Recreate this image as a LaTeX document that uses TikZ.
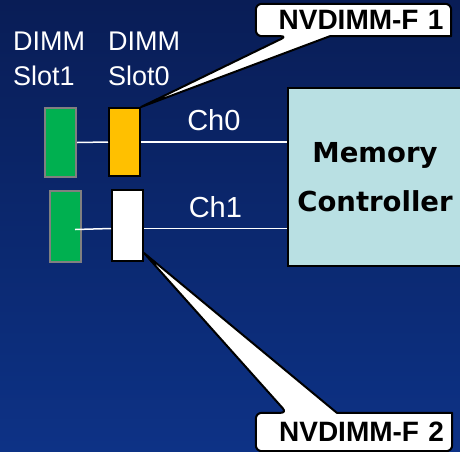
\documentclass[tikz,border=0pt]{standalone}
\usepackage{fontspec}
\setmainfont{Liberation Sans}
\newfontfamily\mcfont{DejaVu Sans}
\usetikzlibrary{positioning, calc}

\definecolor{bgTop}{RGB}{9,29,86}
\definecolor{bgBottom}{RGB}{13,50,134}
\definecolor{slotGreen}{RGB}{0,176,80}
\definecolor{slotYellow}{RGB}{255,192,0}
\definecolor{mcFill}{RGB}{185,224,227}

\pgfdeclarelayer{sky}
\pgfdeclarelayer{back}
\pgfsetlayers{sky,back,main}

\begin{document}
\begin{tikzpicture}[
    x=1pt, y=-1pt,
    % Node Styles
    slot/.style={rectangle, line width=2pt, minimum width=31pt, inner sep=0pt},
    dimmSlot/.style={slot, draw=gray, fill=slotGreen},
    nvSlot/.style={slot, draw=black},
    slotText/.style={text=white, align=left, inner sep=0pt, anchor=north west, font=\fontsize{27}{34.5}\selectfont},
    chLine/.style={draw=white, line width=1.5pt},
    chText/.style={text=white, inner sep=0pt, font=\fontsize{29}{34}\selectfont},
    ctrl/.style={rectangle, draw=black, line width=2.5pt, fill=mcFill, align=center,
        minimum width=174pt, minimum height=178pt, font=\mcfont\bfseries\fontsize{27.5}{49}\selectfont},
    callText/.style={rectangle, inner sep=0pt, text width=180pt, align=right,
        font=\bfseries\fontsize{28}{32}\selectfont},
    callout/.style={draw=black, line width=2pt, fill=white, line join=round}
]

% =========================================================
% BACKGROUND
% =========================================================
\begin{pgfonlayer}{sky}
\shade[top color=bgTop, bottom color=bgBottom] (0,0) rectangle (460,451);
\end{pgfonlayer}
\useasboundingbox (0,0) rectangle (460,451);

% =========================================================
% SLOT LABELS
% =========================================================
\node[slotText] (slot1Text) at (13,32) {DIMM\\Slot1};
\node[slotText] (slot0Text) at (108,32) {DIMM\\Slot0};

% =========================================================
% DIMM SLOTS
% =========================================================
\node[dimmSlot, minimum height=69pt] (s1c0) at (60.5,142.5) {};
\node[nvSlot, fill=slotYellow, minimum height=68pt] (s0c0) at (124.5,142) {};
\node[dimmSlot, minimum height=71pt] (s1c1) at (65,226.5) {};
\node[nvSlot, fill=white, minimum height=71pt] (s0c1) at (127.5,225.5) {};

% =========================================================
% MEMORY CONTROLLER
% =========================================================
\node[ctrl] (mc) at (375,177) {Memory\\Controller};

% Channels
\draw[chLine] (s1c0.east) -- (s0c0.west);
\draw[chLine] (s0c0.east) -- node[chText, above=10pt] (ch0) {Ch0} (s0c0.east -| mc.west);
\draw[chLine] ([xshift=10pt, yshift=-3pt]s1c1.center) -- ([yshift=-3pt]s0c1.west);
\draw[chLine] ([yshift=-3pt]s0c1.east) -- node[chText, above=10pt] (ch1) {Ch1} ([yshift=-3pt]s0c1.east -| mc.west);

% =========================================================
% CALLOUTS
% =========================================================
\node[callText, minimum width=195pt, minimum height=32pt] (nv1) at (353.5,20) {NVDIMM-F 1};
\node[callText, minimum width=196pt, minimum height=38pt] (nv2) at (354,432) {NVDIMM-F 2};

\begin{pgfonlayer}{back}
\draw[callout] ([xshift=31pt]nv1.south west) -- (s0c0.north east) -- ([xshift=74pt]nv1.south west)
    -- (nv1.south east) [rounded corners=6pt] -- (nv1.north east) -- (nv1.north west) -- (nv1.south west) -- cycle;
\draw[callout] ([xshift=31pt]nv2.north west) -- ([yshift=9pt]s0c1.south east) -- ([xshift=81pt]nv2.north west)
    -- (nv2.north east) [rounded corners=6pt] -- (nv2.south east) -- (nv2.south west) -- (nv2.north west) -- cycle;
\end{pgfonlayer}

\end{tikzpicture}
\end{document}
